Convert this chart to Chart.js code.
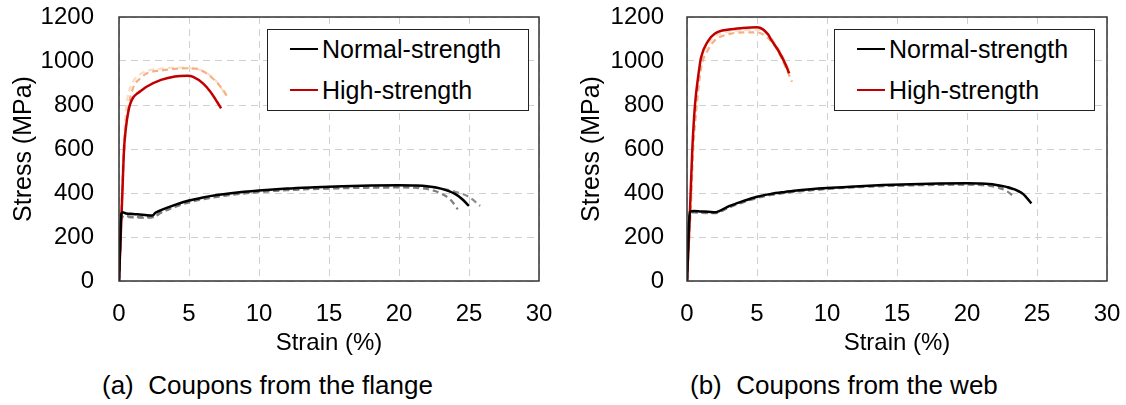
<!DOCTYPE html>
<html>
<head>
<meta charset="utf-8">
<script src="https://cdn.jsdelivr.net/npm/chart.js@4.4.0/dist/chart.umd.min.js"></script>
<style>
  body { margin: 0; background: #fff; font-family: "Liberation Sans", Arial, sans-serif; }
  #wrap { position: relative; width: 1126px; height: 405px; overflow: hidden; }
  canvas { position: absolute; top: 0; }
  .legend { position: absolute; border: 1.5px solid #222; background: #fff; box-sizing: border-box; }
  .row { position: absolute; left: 0; font-size: 25px; line-height: 28px; color: #000; white-space: nowrap; }
  .row span.ln { display: inline-block; width: 28px; height: 2px; vertical-align: middle; margin: 0 4px 4px 22px; }
  .caption { position: absolute; top: 370px; font-size: 26px; color: #000; white-space: pre; }
</style>
</head>
<body>
<div id="wrap">
  <canvas id="flangeChart" width="563" height="370" style="left:0"></canvas>
  <canvas id="webChart" width="563" height="370" style="left:563px"></canvas>

  <div class="legend" style="left:267px; top:29px; width:262px; height:82px;">
    <div class="row" style="top:5px"><span class="ln" style="background:#000"></span>Normal-strength</div>
    <div class="row" style="top:46px"><span class="ln" style="background:#c00000"></span>High-strength</div>
  </div>
  <div class="legend" style="left:834px; top:29px; width:261px; height:82px;">
    <div class="row" style="top:5px"><span class="ln" style="background:#000"></span>Normal-strength</div>
    <div class="row" style="top:46px"><span class="ln" style="background:#c00000"></span>High-strength</div>
  </div>

  <div class="caption" style="left:102px">(a)  Coupons from the flange</div>
  <div class="caption" style="left:690px">(b)  Coupons from the web</div>
</div>

<script>
// Ejes
const xTicks = [0, 5, 10, 15, 20, 25, 30];
const yTicks = [0, 200, 400, 600, 800, 1000, 1200];

// (a) Ala - acero normal (curva principal y dos repeticiones)
const flangeNormalStrain = [0, 0.08, 0.15, 0.25, 0.5, 1, 1.5, 2, 2.4, 2.6, 3, 4, 5, 6, 7, 8, 10, 12, 14, 16, 18, 20, 21, 22, 23, 24, 24.5, 25];
const flangeNormalStress = [0, 160, 300, 312, 307, 305, 302, 299, 298, 310, 322, 346, 366, 380, 391, 399, 411, 420, 426, 431, 434, 435, 434, 431, 420, 396, 373, 341];
const flangeNormalStrainA = [0, 0.08, 0.15, 0.3, 1, 2, 2.5, 3, 4, 5, 6, 8, 10, 12, 15, 18, 20, 21, 22, 23, 23.7, 24.2];
const flangeNormalStressA = [0, 150, 285, 296, 292, 290, 292, 310, 337, 357, 371, 391, 404, 413, 420, 424, 425, 424, 418, 398, 368, 326];
const flangeNormalStrainB = [0, 0.08, 0.15, 0.3, 1, 2, 2.5, 3, 4, 5, 6, 8, 10, 12, 15, 18, 20, 22, 23, 24, 25, 25.8];
const flangeNormalStressB = [0, 145, 280, 292, 289, 287, 291, 312, 340, 360, 374, 393, 406, 415, 422, 426, 428, 427, 420, 406, 382, 341];

// (a) Ala - acero de alta resistencia
const flangeHighStrain = [0, 0.12, 0.24, 0.36, 0.5, 0.65, 0.8, 1, 1.3, 1.6, 2, 3, 4, 4.9, 5.3, 6, 6.5, 7, 7.29];
const flangeHighStress = [0, 200, 400, 600, 700, 765, 805, 833, 852, 866, 884, 914, 930, 933, 928, 898, 862, 815, 785];
const flangeHighStrainA = [0, 0.15, 0.3, 0.5, 0.7, 1, 1.5, 2, 3, 4, 5, 5.5, 6, 6.5, 7, 7.5, 7.8];
const flangeHighStressA = [0, 260, 500, 700, 800, 877, 920, 944, 957, 964, 967, 965, 953, 932, 902, 862, 828];
const flangeHighStrainB = [0, 0.15, 0.3, 0.5, 0.7, 1, 1.5, 2, 3, 4, 5, 6, 6.5, 7, 7.5];
const flangeHighStressB = [0, 300, 580, 780, 860, 906, 940, 955, 965, 970, 968, 955, 935, 905, 858];

// (b) Alma - acero normal
const webNormalStrain = [0, 0.1, 0.2, 0.5, 1, 1.5, 2, 2.3, 3, 4, 5, 6, 7, 8, 10, 12, 14, 16, 18, 20, 21, 22, 23, 24, 24.6];
const webNormalStress = [0, 200, 315, 318, 316, 315, 312, 318, 340, 363, 383, 396, 405, 413, 423, 430, 436, 440, 443, 444, 443, 438, 425, 396, 353];
const webNormalStrainA = [0, 0.1, 0.2, 0.5, 1, 2, 2.3, 3, 4, 5, 6, 8, 10, 12, 15, 18, 20, 21, 22, 22.8, 23.3];
const webNormalStressA = [0, 190, 308, 312, 310, 308, 313, 334, 357, 377, 391, 407, 418, 426, 433, 437, 438, 436, 428, 410, 386];
const webNormalStrainB = [0, 0.1, 0.2, 0.5, 1, 2, 2.3, 3, 4, 5, 6, 8, 10, 12, 15, 18, 20, 22, 23, 24, 24.5];
const webNormalStressB = [0, 195, 310, 314, 312, 309, 314, 336, 360, 380, 393, 409, 420, 428, 435, 439, 440, 434, 422, 395, 360];

// (b) Alma - acero de alta resistencia
const webHighStrain = [0, 0.2, 0.38, 0.57, 0.8, 1, 1.5, 2, 3, 4, 5, 5.4, 5.8, 6, 6.5, 7, 7.3];
const webHighStress = [0, 300, 600, 800, 930, 1015, 1090, 1125, 1143, 1150, 1153, 1145, 1120, 1098, 1050, 990, 944];
const webHighStrainA = [0, 0.25, 0.45, 0.7, 1, 1.5, 2, 3, 4, 5, 5.5, 6, 6.5, 7, 7.5];
const webHighStressA = [0, 300, 600, 800, 965, 1050, 1095, 1122, 1130, 1130, 1118, 1090, 1045, 978, 905];
const webHighStrainB = [0, 0.22, 0.42, 0.62, 0.85, 1, 1.5, 2, 3, 4, 5, 5.5, 6, 6.5, 7, 7.4];
const webHighStressB = [0, 300, 600, 800, 930, 995, 1075, 1112, 1133, 1140, 1143, 1133, 1105, 1060, 1000, 945];

const FONT = '"Liberation Sans", Arial, sans-serif';

function toPoints(xs, ys) {
    return xs.map((x, i) => ({ x: x, y: ys[i] }));
}

function solid(xs, ys, color) {
    return {
        data: toPoints(xs, ys),
        borderColor: color,
        borderWidth: 2.5,
        pointRadius: 0,
        cubicInterpolationMode: 'monotone',
        fill: false
    };
}

function dashed(xs, ys, color) {
    return {
        data: toPoints(xs, ys),
        borderColor: color,
        borderWidth: 2.2,
        borderDash: [6, 4],
        pointRadius: 0,
        cubicInterpolationMode: 'monotone',
        fill: false
    };
}

// Marco completo alrededor del área de trazado
const frame = {
    id: 'frame',
    afterDraw(chart) {
        const a = chart.chartArea;
        const ctx = chart.ctx;
        ctx.save();
        ctx.strokeStyle = '#333';
        ctx.lineWidth = 1.5;
        ctx.strokeRect(a.left, a.top, a.right - a.left, a.bottom - a.top);
        ctx.restore();
    }
};

function buildChart(id, datasets, pad) {
    const ctx = document.getElementById(id).getContext('2d');
    return new Chart(ctx, {
        type: 'line',
        data: { datasets: datasets },
        options: {
            responsive: false,
            animation: false,
            events: [],
            layout: { padding: { left: pad.left, right: pad.right, top: 17, bottom: 0 } },
            plugins: { legend: { display: false }, tooltip: { enabled: false } },
            scales: {
                x: {
                    type: 'linear',
                    min: 0,
                    max: 30,
                    afterBuildTicks: s => { s.ticks = xTicks.map(v => ({ value: v })); },
                    afterFit: s => { s.height = 89; s.paddingLeft = 0; s.paddingRight = 0; },
                    grid: { color: '#d0d0d0', lineWidth: 1, drawTicks: false },
                    border: { display: false, dash: [7, 5] },
                    ticks: { color: '#000', padding: 19, font: { family: FONT, size: 24 }, maxRotation: 0 },
                    title: { display: true, text: 'Strain (%)', color: '#000', font: { family: FONT, size: 24 }, padding: { top: 0, bottom: 12 } }
                },
                y: {
                    min: 0,
                    max: 1200,
                    afterBuildTicks: s => { s.ticks = yTicks.map(v => ({ value: v })); },
                    afterFit: s => { s.width = pad.axis; s.paddingTop = 0; s.paddingBottom = 0; },
                    grid: { color: '#d0d0d0', lineWidth: 1, drawTicks: false },
                    border: { display: false, dash: [7, 5] },
                    ticks: { color: '#000', padding: pad.tick, font: { family: FONT, size: 24 }, callback: v => String(v) },
                    title: { display: true, text: 'Stress (MPa)', color: '#000', font: { family: FONT, size: 25 }, padding: { top: 4, bottom: 4 } }
                }
            }
        },
        plugins: [frame]
    });
}

buildChart('flangeChart', [
    solid(flangeNormalStrain, flangeNormalStress, '#000000'),
    solid(flangeHighStrain, flangeHighStress, '#c00000'),
    dashed(flangeNormalStrainA, flangeNormalStressA, '#7f7f7f'),
    dashed(flangeNormalStrainB, flangeNormalStressB, '#8c8c8c'),
    dashed(flangeHighStrainA, flangeHighStressA, '#f4b183'),
    dashed(flangeHighStrainB, flangeHighStressB, '#fbdcc6')
], { left: 5, right: 24, axis: 114, tick: 25 });

buildChart('webChart', [
    solid(webNormalStrain, webNormalStress, '#000000'),
    solid(webHighStrain, webHighStress, '#c00000'),
    dashed(webNormalStrainA, webNormalStressA, '#7f7f7f'),
    dashed(webNormalStrainB, webNormalStressB, '#595959'),
    dashed(webHighStrainA, webHighStressA, '#f4b183'),
    dashed(webHighStrainB, webHighStressB, '#fbdcc6')
], { left: 10, right: 19, axis: 114, tick: 23 });
</script>
</body>
</html>
